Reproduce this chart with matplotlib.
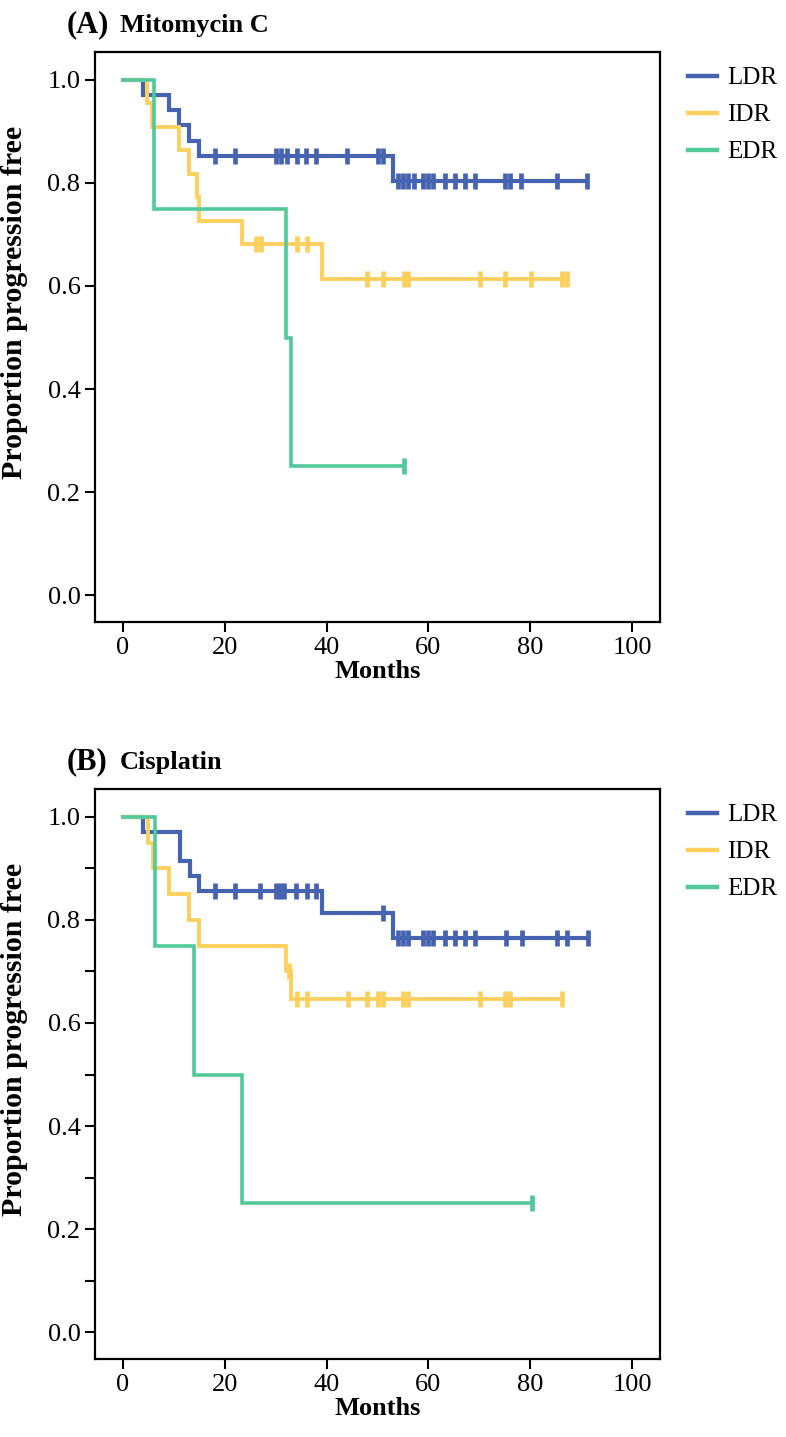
import matplotlib
matplotlib.use("Agg")
import matplotlib.pyplot as plt
import numpy as np

plt.rcParams['font.family'] = ['Liberation Serif', 'DejaVu Serif']

groups = ['LDR', 'IDR', 'EDR']
colors = {'LDR': '#4563b0', 'IDR': '#fdd05e', 'EDR': '#52c99a'}
widths = {'LDR': 3.0, 'IDR': 2.8, 'EDR': 2.6}

# panel A - Mitomycin C
a_ldr_t = [0, 3.9, 9.1, 11, 13, 15, 53]
a_ldr_s = [1.0, 0.971, 0.941, 0.912, 0.882, 0.853, 0.804]
a_ldr_c = [18, 22, 30, 31, 32.2, 34.2, 36, 38, 44, 50, 51, 54, 55, 56, 57.2, 59, 60, 61,
           63.3, 65.2, 67.2, 69.2, 75, 76, 78.2, 85.3, 91.2]
a_idr_t = [0, 4.7, 5.7, 11, 13, 14.5, 15, 23.3, 39]
a_idr_s = [1.0, 0.955, 0.909, 0.864, 0.818, 0.773, 0.727, 0.682, 0.614]
a_idr_c = [26.1, 27.1, 34.2, 36.1, 48, 51, 55.2, 56, 70.1, 75, 80.2, 86.2, 87.2]
a_edr_t = [0, 6.1, 32, 33]
a_edr_s = [1.0, 0.75, 0.5, 0.25]
a_edr_c = [55.2]

# panel B - Cisplatin
b_ldr_t = [0, 3.9, 11.2, 13.2, 15, 39, 53]
b_ldr_s = [1.0, 0.971, 0.914, 0.886, 0.857, 0.813, 0.765]
b_ldr_c = [18.1, 22, 27, 30, 30.8, 31.6, 34, 36.1, 38, 51, 54, 55, 56, 59, 60, 61,
           63.3, 65.2, 67.2, 69.2, 75.2, 78.4, 85.3, 87.2, 91.4]
b_idr_t = [0, 4.9, 5.8, 9.1, 13, 15, 32.0, 33.1]
b_idr_s = [1.0, 0.95, 0.90, 0.85, 0.80, 0.75, 0.70, 0.646]
b_idr_c = [32.6, 34.1, 36.1, 44.2, 48, 50, 51.1, 55, 56, 70.1, 75, 76, 86.3]
b_edr_t = [0, 6.3, 14, 23.3]
b_edr_s = [1.0, 0.75, 0.5, 0.25]
b_edr_c = [80.4]

panels = [
    ('(A)', 'Mitomycin C', {'LDR': (a_ldr_t, a_ldr_s, a_ldr_c),
                            'IDR': (a_idr_t, a_idr_s, a_idr_c),
                            'EDR': (a_edr_t, a_edr_s, a_edr_c)}, False),
    ('(B)', 'Cisplatin', {'LDR': (b_ldr_t, b_ldr_s, b_ldr_c),
                          'IDR': (b_idr_t, b_idr_s, b_idr_c),
                          'EDR': (b_edr_t, b_edr_s, b_edr_c)}, True),
]

W, H = 786, 1437
fig = plt.figure(figsize=(W / 100, H / 100), dpi=100)

ax_left = 95 / W
ax_w = (660 - 95) / W
ax_h = 570 / H
tops = [52, 789]

for k, (tag, name, data, minor) in enumerate(panels):
    top = tops[k]
    ax = fig.add_axes([ax_left, 1 - (top + 570) / H, ax_w, ax_h])
    for g in groups:
        t, s, c = data[g]
        end = c[-1]
        ax.step(t + [end], s + [s[-1]], where='post', color=colors[g],
                lw=widths[g], label=g, solid_joinstyle='miter')
        idx = np.searchsorted(t, c, side='right') - 1
        cy = np.array(s)[idx]
        ax.plot(c, cy, ls='none', marker='|', ms=11, mew=3.4, color=colors[g])
    ax.set_xlim(-5.5, 105.5)
    ax.set_ylim(-0.052, 1.054)
    ax.set_xticks([0, 20, 40, 60, 80, 100])
    ax.set_yticks([0.0, 0.2, 0.4, 0.6, 0.8, 1.0])
    ax.set_yticklabels(['0.0', '0.2', '0.4', '0.6', '0.8', '1.0'])
    if minor:
        ax.set_yticks(np.arange(0.1, 1.0, 0.2), minor=True)
        ax.tick_params(axis='y', which='minor', length=7, width=1.5, direction='out')
    ax.tick_params(which='major', length=7.5, width=1.5, direction='out', labelsize=19, pad=3)
    for sp in ax.spines.values():
        sp.set_linewidth(1.6)
    ax.set_xlabel('Months', fontsize=19, fontweight='bold', labelpad=1)
    ax.set_ylabel('Proportion progression free', fontsize=21.5, fontweight='bold')
    ax.yaxis.set_label_coords(-0.118, 0.56)
    leg = ax.legend(loc='upper left', bbox_to_anchor=(1.05, 0.974), frameon=False,
                    fontsize=18, handlelength=1.15, handletextpad=0.4,
                    labelspacing=0.58, borderpad=0, borderaxespad=0)
    for ln in leg.get_lines():
        ln.set_linewidth(3.2)
    fig.text(67 / W, 1 - (top - 20) / H, tag, fontsize=22, fontweight='bold',
             ha='left', va='baseline')
    fig.text(120 / W, 1 - (top - 20) / H, name, fontsize=19, fontweight='bold',
             ha='left', va='baseline')

fig.savefig('out.png', dpi=100)
